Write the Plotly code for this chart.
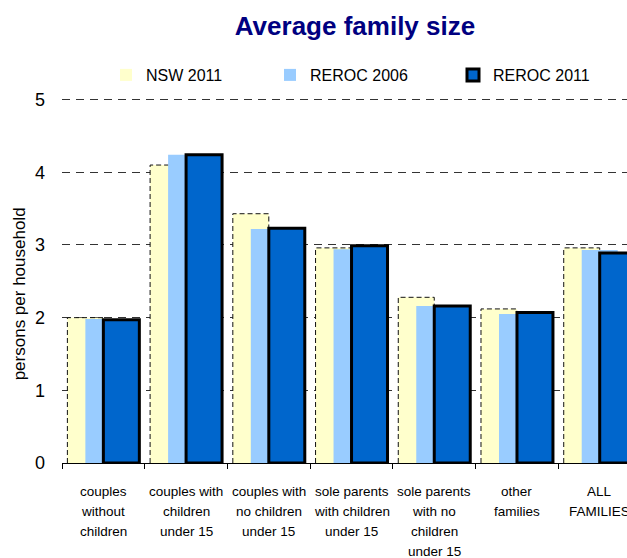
import plotly.graph_objects as go

# Family types shown along the x axis (each entry is split into display lines)
categories = [
    "couples<br>without<br>children",
    "couples with<br>children<br>under 15",
    "couples with<br>no children<br>under 15",
    "sole parents<br>with children<br>under 15",
    "sole parents<br>with no<br>children<br>under 15",
    "other<br>families",
    "ALL<br>FAMILIES",
]

# Average persons per household
nsw_2011 = [2.00, 4.10, 3.43, 2.96, 2.28, 2.12, 2.96]
reroc_2006 = [1.98, 4.24, 3.22, 2.94, 2.16, 2.05, 2.93]
reroc_2011 = [1.97, 4.24, 3.23, 2.99, 2.16, 2.07, 2.89]

y_ticks = [0, 1, 2, 3, 4, 5]

FONT = "Liberation Sans, Arial, sans-serif"
BAR_W = 0.435
idx = list(range(len(categories)))

W, H = 627, 558
M_L, M_R, M_T, M_B = 61.5, 0, 96.4, 95
PLOT_W = W - M_L - M_R
PLOT_H = H - M_T - M_B

fig = go.Figure()

# NSW 2011 bars on the base axes, so the REROC bars overlap them
fig.add_trace(go.Bar(
    x=idx, y=nsw_2011, name="NSW 2011",
    offset=-BAR_W, width=BAR_W,
    marker=dict(color="#FFFFCC", line=dict(width=0)),
    xaxis="x", yaxis="y", legend="legend",
))

# dashed outline of the NSW bars
ox, oy = [], []
for i, v in zip(idx, nsw_2011):
    ox += [i - BAR_W, i - BAR_W, i, i, None]
    oy += [0, v, v, 0, None]
fig.add_trace(go.Scatter(
    x=ox, y=oy, mode="lines", showlegend=False, hoverinfo="skip",
    line=dict(color="#111111", width=1, dash="5px,3px"),
    xaxis="x", yaxis="y",
))

# REROC bars on an overlaid pair of axes (drawn above the NSW layer)
fig.add_trace(go.Bar(
    x=idx, y=reroc_2006, name="REROC 2006",
    offset=-BAR_W / 2, width=BAR_W,
    marker=dict(color="#99CCFF", line=dict(width=0)),
    xaxis="x2", yaxis="y2", legend="legend2",
))
fig.add_trace(go.Bar(
    x=idx, y=reroc_2011, name="REROC 2011",
    offset=0, width=BAR_W,
    marker=dict(color="#0066CC", line=dict(color="#000000", width=3)),
    xaxis="x2", yaxis="y2", legend="legend3",
))

x_range = [-0.5, 6.33]
y_range = [0, 5.05]

# multi-line category labels below the axis
annotations = []
for i, label in zip(idx, categories):
    for j, line in enumerate(label.split("<br>")):
        annotations.append(dict(
            x=i, y=0, xref="x", yref="y", text=line, showarrow=False,
            xanchor="center", yanchor="middle", yshift=-28 - 20 * j,
            font=dict(family=FONT, size=13.5, color="#000000"),
        ))

# y axis caption
annotations.append(dict(
    text="persons per household", textangle=-90, showarrow=False,
    xref="paper", yref="paper",
    x=(19 - M_L) / PLOT_W, y=(H - M_B - 294) / PLOT_H,
    xanchor="center", yanchor="middle",
    font=dict(family=FONT, size=17, color="#000000"),
))

legend_common = dict(
    orientation="h", xref="container", yref="container",
    yanchor="middle", xanchor="left", y=1 - 75 / H,
    font=dict(family=FONT, size=16, color="#000000"),
    bgcolor="rgba(0,0,0,0)", itemwidth=30,
)

fig.update_layout(
    width=W, height=H,
    margin=dict(l=M_L, r=M_R, t=M_T, b=M_B, autoexpand=False),
    paper_bgcolor="#FFFFFF", plot_bgcolor="#FFFFFF",
    barmode="overlay",
    title=dict(
        text="<b>Average family size</b>",
        x=355 / W, xref="container", xanchor="center",
        y=1 - 26 / H, yref="container", yanchor="middle",
        font=dict(family=FONT, size=26, color="#000080"),
    ),
    xaxis=dict(
        range=x_range, showgrid=False, zeroline=False,
        showline=True, linecolor="#000000", linewidth=1,
        tickmode="array", tickvals=[i - 0.5 for i in idx] + [6.5],
        ticks="outside", ticklen=5, tickcolor="#000000",
        showticklabels=False,
    ),
    yaxis=dict(
        range=y_range, tickvals=y_ticks, ticks="",
        showgrid=True, gridcolor="#333333", gridwidth=1, griddash="8px,6px",
        zeroline=False, showline=False,
        tickfont=dict(family=FONT, size=18, color="#000000"),
        ticklabelstandoff=16,
    ),
    xaxis2=dict(range=x_range, overlaying="x", visible=False),
    yaxis2=dict(range=y_range, overlaying="y", visible=False),
    legend=dict(x=106 / W, **legend_common),
    legend2=dict(x=270 / W, **legend_common),
    legend3=dict(x=453 / W, **legend_common),
    annotations=annotations,
)

fig.write_html("out.html")
